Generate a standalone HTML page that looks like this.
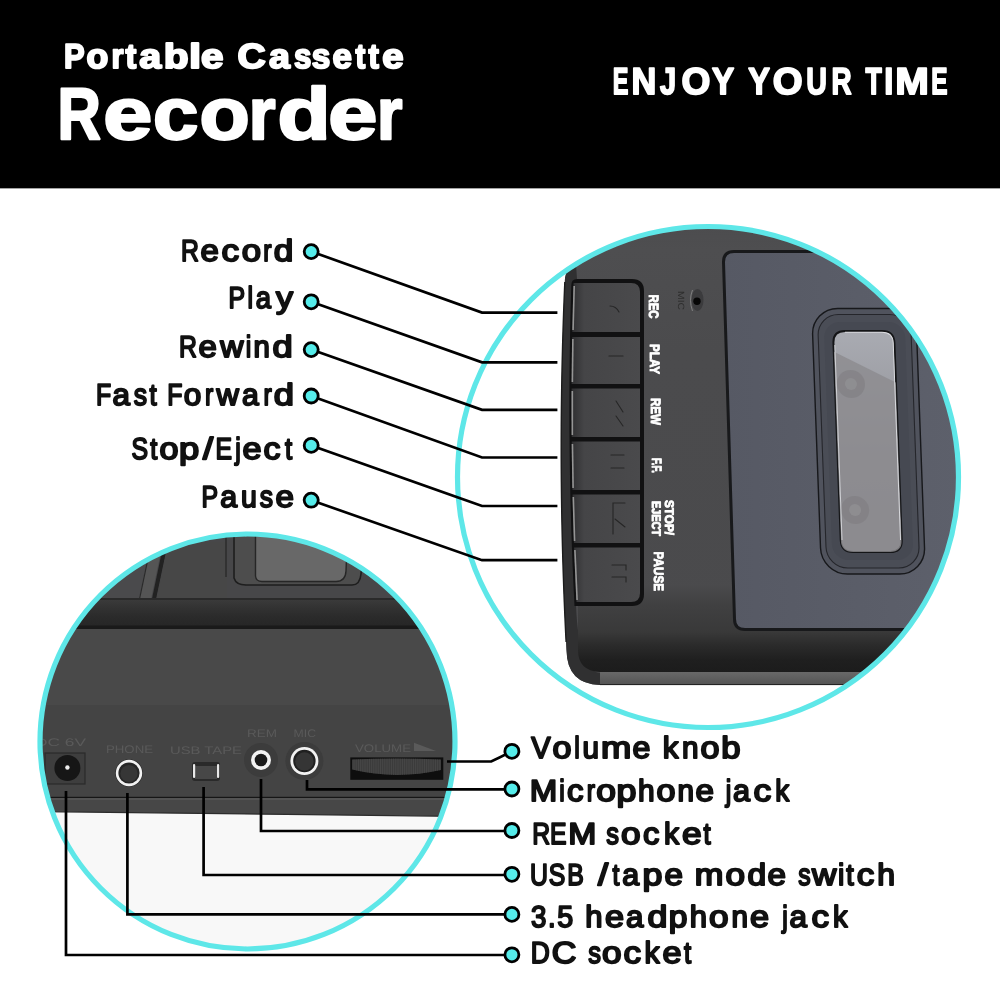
<!DOCTYPE html>
<html><head><meta charset="utf-8">
<style>
html,body{margin:0;padding:0;background:#fff;}
body{width:1000px;height:1000px;overflow:hidden;position:relative;font-family:"Liberation Sans",sans-serif;}
svg{position:absolute;left:-10px;top:-10px;text-rendering:geometricPrecision;will-change:transform;filter:blur(0.35px);}
</style></head>
<body>
<svg width="1020" height="1020" viewBox="-10 -10 1020 1020" font-family="Liberation Sans, sans-serif">
<defs>
  <clipPath id="cR"><circle cx="708" cy="477" r="250.5"/></clipPath>
  <clipPath id="cL"><circle cx="247.5" cy="741.5" r="207.5"/></clipPath>
  <linearGradient id="bodyR" x1="0" y1="200" x2="0" y2="700" gradientUnits="userSpaceOnUse">
    <stop offset="0" stop-color="#4a4a4c"/>
    <stop offset="0.1" stop-color="#4e4e50"/>
    <stop offset="0.3" stop-color="#4b4b4d"/>
    <stop offset="1" stop-color="#4a4a4c"/>
  </linearGradient>
  <linearGradient id="botR" x1="0" y1="585" x2="0" y2="672" gradientUnits="userSpaceOnUse">
    <stop offset="0" stop-color="#4a4a4c"/>
    <stop offset="0.24" stop-color="#404041"/>
    <stop offset="0.54" stop-color="#393939"/>
    <stop offset="0.69" stop-color="#2b2b2b"/>
    <stop offset="0.86" stop-color="#1f1f1f"/>
    <stop offset="1" stop-color="#1c1c1c"/>
  </linearGradient>
  <linearGradient id="stripR" x1="0" y1="671" x2="0" y2="684" gradientUnits="userSpaceOnUse">
    <stop offset="0" stop-color="#6a6a6a"/>
    <stop offset="1" stop-color="#555555"/>
  </linearGradient>
  <linearGradient id="btn" x1="572" y1="0" x2="640" y2="0" gradientUnits="userSpaceOnUse">
    <stop offset="0" stop-color="#303032"/>
    <stop offset="0.18" stop-color="#454547"/>
    <stop offset="1" stop-color="#4a4a4c"/>
  </linearGradient>
  <linearGradient id="glass" x1="0" y1="331" x2="0" y2="552" gradientUnits="userSpaceOnUse">
    <stop offset="0" stop-color="#a9abb2"/>
    <stop offset="0.3" stop-color="#9c9da3"/>
    <stop offset="0.6" stop-color="#909096"/>
    <stop offset="1" stop-color="#8a8a90"/>
  </linearGradient>
  <linearGradient id="bandL" x1="0" y1="600" x2="0" y2="627" gradientUnits="userSpaceOnUse">
    <stop offset="0" stop-color="#3a3a3a"/>
    <stop offset="0.3" stop-color="#323232"/>
    <stop offset="0.6" stop-color="#2b2b2b"/>
    <stop offset="1" stop-color="#262626"/>
  </linearGradient>
  <linearGradient id="lidG" x1="723" y1="0" x2="960" y2="0" gradientUnits="userSpaceOnUse">
    <stop offset="0" stop-color="#565964"/>
    <stop offset="1" stop-color="#5d606b"/>
  </linearGradient>
</defs>

<!-- header -->
<rect x="-10" y="-10" width="1020" height="198.6" fill="#000"/>
<rect x="-10" y="188.6" width="1020" height="822" fill="#fff"/>
<text x="63.93" y="68.20" font-size="34.60" textLength="20.63" lengthAdjust="spacingAndGlyphs" fill="#fff" font-weight="bold" stroke="#fff" stroke-width="2.00" paint-order="stroke" stroke-linejoin="round">P</text>
<text x="86.61" y="68.20" font-size="34.60" textLength="21.79" lengthAdjust="spacingAndGlyphs" fill="#fff" font-weight="bold" stroke="#fff" stroke-width="2.00" paint-order="stroke" stroke-linejoin="round">o</text>
<text x="111.47" y="68.20" font-size="34.60" textLength="12.00" lengthAdjust="spacingAndGlyphs" fill="#fff" font-weight="bold" stroke="#fff" stroke-width="2.00" paint-order="stroke" stroke-linejoin="round">r</text>
<text x="125.60" y="68.20" font-size="34.60" textLength="10.79" lengthAdjust="spacingAndGlyphs" fill="#fff" font-weight="bold" stroke="#fff" stroke-width="2.00" paint-order="stroke" stroke-linejoin="round">t</text>
<text x="139.35" y="68.20" font-size="34.60" textLength="21.90" lengthAdjust="spacingAndGlyphs" fill="#fff" font-weight="bold" stroke="#fff" stroke-width="2.00" paint-order="stroke" stroke-linejoin="round">a</text>
<text x="163.82" y="68.20" font-size="34.60" textLength="24.85" lengthAdjust="spacingAndGlyphs" fill="#fff" font-weight="bold" stroke="#fff" stroke-width="2.00" paint-order="stroke" stroke-linejoin="round">b</text>
<text x="188.95" y="68.20" font-size="34.60" textLength="12.15" lengthAdjust="spacingAndGlyphs" fill="#fff" font-weight="bold" stroke="#fff" stroke-width="2.00" paint-order="stroke" stroke-linejoin="round">l</text>
<text x="200.92" y="68.20" font-size="34.60" textLength="22.46" lengthAdjust="spacingAndGlyphs" fill="#fff" font-weight="bold" stroke="#fff" stroke-width="2.00" paint-order="stroke" stroke-linejoin="round">e</text>
<text x="237.40" y="68.20" font-size="34.60" textLength="28.17" lengthAdjust="spacingAndGlyphs" fill="#fff" font-weight="bold" stroke="#fff" stroke-width="2.00" paint-order="stroke" stroke-linejoin="round">C</text>
<text x="268.90" y="68.20" font-size="34.60" textLength="20.86" lengthAdjust="spacingAndGlyphs" fill="#fff" font-weight="bold" stroke="#fff" stroke-width="2.00" paint-order="stroke" stroke-linejoin="round">a</text>
<text x="293.90" y="68.20" font-size="34.60" textLength="17.38" lengthAdjust="spacingAndGlyphs" fill="#fff" font-weight="bold" stroke="#fff" stroke-width="2.00" paint-order="stroke" stroke-linejoin="round">s</text>
<text x="311.83" y="68.20" font-size="34.60" textLength="18.54" lengthAdjust="spacingAndGlyphs" fill="#fff" font-weight="bold" stroke="#fff" stroke-width="2.00" paint-order="stroke" stroke-linejoin="round">s</text>
<text x="332.43" y="68.20" font-size="34.60" textLength="19.46" lengthAdjust="spacingAndGlyphs" fill="#fff" font-weight="bold" stroke="#fff" stroke-width="2.00" paint-order="stroke" stroke-linejoin="round">e</text>
<text x="355.54" y="68.20" font-size="34.60" textLength="9.82" lengthAdjust="spacingAndGlyphs" fill="#fff" font-weight="bold" stroke="#fff" stroke-width="2.00" paint-order="stroke" stroke-linejoin="round">t</text>
<text x="368.62" y="68.20" font-size="34.60" textLength="10.36" lengthAdjust="spacingAndGlyphs" fill="#fff" font-weight="bold" stroke="#fff" stroke-width="2.00" paint-order="stroke" stroke-linejoin="round">t</text>
<text x="382.20" y="68.20" font-size="34.60" textLength="21.31" lengthAdjust="spacingAndGlyphs" fill="#fff" font-weight="bold" stroke="#fff" stroke-width="2.00" paint-order="stroke" stroke-linejoin="round">e</text>
<text x="57.58" y="139.40" font-size="73.20" textLength="43.35" lengthAdjust="spacingAndGlyphs" fill="#fff" font-weight="bold" stroke="#fff" stroke-width="2.40" paint-order="stroke" stroke-linejoin="round">R</text>
<text x="103.15" y="139.40" font-size="73.20" textLength="49.06" lengthAdjust="spacingAndGlyphs" fill="#fff" font-weight="bold" stroke="#fff" stroke-width="2.40" paint-order="stroke" stroke-linejoin="round">e</text>
<text x="152.90" y="139.40" font-size="73.20" textLength="45.49" lengthAdjust="spacingAndGlyphs" fill="#fff" font-weight="bold" stroke="#fff" stroke-width="2.40" paint-order="stroke" stroke-linejoin="round">c</text>
<text x="199.49" y="139.40" font-size="73.20" textLength="50.22" lengthAdjust="spacingAndGlyphs" fill="#fff" font-weight="bold" stroke="#fff" stroke-width="2.40" paint-order="stroke" stroke-linejoin="round">o</text>
<text x="248.66" y="139.40" font-size="73.20" textLength="26.78" lengthAdjust="spacingAndGlyphs" fill="#fff" font-weight="bold" stroke="#fff" stroke-width="2.40" paint-order="stroke" stroke-linejoin="round">r</text>
<text x="277.63" y="139.40" font-size="73.20" textLength="53.09" lengthAdjust="spacingAndGlyphs" fill="#fff" font-weight="bold" stroke="#fff" stroke-width="2.40" paint-order="stroke" stroke-linejoin="round">d</text>
<text x="328.25" y="139.40" font-size="73.20" textLength="49.18" lengthAdjust="spacingAndGlyphs" fill="#fff" font-weight="bold" stroke="#fff" stroke-width="2.40" paint-order="stroke" stroke-linejoin="round">e</text>
<text x="376.90" y="139.40" font-size="73.20" textLength="25.39" lengthAdjust="spacingAndGlyphs" fill="#fff" font-weight="bold" stroke="#fff" stroke-width="2.40" paint-order="stroke" stroke-linejoin="round">r</text>
<text x="612.83" y="94.10" font-size="37.50" textLength="15.69" lengthAdjust="spacingAndGlyphs" fill="#fff" font-weight="bold" stroke="#fff" stroke-width="1.80" paint-order="stroke" stroke-linejoin="round">E</text>
<text x="631.60" y="94.10" font-size="37.50" textLength="24.81" lengthAdjust="spacingAndGlyphs" fill="#fff" font-weight="bold" stroke="#fff" stroke-width="1.80" paint-order="stroke" stroke-linejoin="round">N</text>
<text x="659.96" y="94.10" font-size="37.50" textLength="16.12" lengthAdjust="spacingAndGlyphs" fill="#fff" font-weight="bold" stroke="#fff" stroke-width="1.80" paint-order="stroke" stroke-linejoin="round">J</text>
<text x="681.38" y="94.10" font-size="37.50" textLength="28.88" lengthAdjust="spacingAndGlyphs" fill="#fff" font-weight="bold" stroke="#fff" stroke-width="1.80" paint-order="stroke" stroke-linejoin="round">O</text>
<text x="711.93" y="94.10" font-size="37.50" textLength="22.10" lengthAdjust="spacingAndGlyphs" fill="#fff" font-weight="bold" stroke="#fff" stroke-width="1.80" paint-order="stroke" stroke-linejoin="round">Y</text>
<text x="748.34" y="94.10" font-size="37.50" textLength="21.68" lengthAdjust="spacingAndGlyphs" fill="#fff" font-weight="bold" stroke="#fff" stroke-width="1.80" paint-order="stroke" stroke-linejoin="round">Y</text>
<text x="772.82" y="94.10" font-size="37.50" textLength="29.89" lengthAdjust="spacingAndGlyphs" fill="#fff" font-weight="bold" stroke="#fff" stroke-width="1.80" paint-order="stroke" stroke-linejoin="round">O</text>
<text x="806.18" y="94.10" font-size="37.50" textLength="20.67" lengthAdjust="spacingAndGlyphs" fill="#fff" font-weight="bold" stroke="#fff" stroke-width="1.80" paint-order="stroke" stroke-linejoin="round">U</text>
<text x="831.53" y="94.10" font-size="37.50" textLength="20.14" lengthAdjust="spacingAndGlyphs" fill="#fff" font-weight="bold" stroke="#fff" stroke-width="1.80" paint-order="stroke" stroke-linejoin="round">R</text>
<text x="865.60" y="94.10" font-size="37.50" textLength="16.29" lengthAdjust="spacingAndGlyphs" fill="#fff" font-weight="bold" stroke="#fff" stroke-width="1.80" paint-order="stroke" stroke-linejoin="round">T</text>
<text x="884.22" y="94.10" font-size="37.50" textLength="9.07" lengthAdjust="spacingAndGlyphs" fill="#fff" font-weight="bold" stroke="#fff" stroke-width="1.80" paint-order="stroke" stroke-linejoin="round">I</text>
<text x="895.20" y="94.10" font-size="37.50" textLength="33.60" lengthAdjust="spacingAndGlyphs" fill="#fff" font-weight="bold" stroke="#fff" stroke-width="1.80" paint-order="stroke" stroke-linejoin="round">M</text>
<text x="931.27" y="94.10" font-size="37.50" textLength="16.29" lengthAdjust="spacingAndGlyphs" fill="#fff" font-weight="bold" stroke="#fff" stroke-width="1.80" paint-order="stroke" stroke-linejoin="round">E</text>

<!-- ============ upper right circle ============ -->
<g clip-path="url(#cR)">
  <rect x="440" y="200" width="560" height="560" fill="#fff"/>
  <!-- device body -->
  <path d="M565.00,278 Q566,268 576,264 L576,200 L1000,200 L1000,685 L600,685 Q567,684 566.51,650 L566.10,642.00 L565.70,634.00 L565.32,626.00 L564.96,618.00 L564.61,610.00 L564.28,602.00 L563.97,594.00 L563.68,586.00 L563.40,578.00 L563.13,570.00 L562.89,562.00 L562.66,554.00 L562.44,546.00 L562.25,538.00 L562.07,530.00 L561.91,522.00 L561.76,514.00 L561.63,506.00 L561.52,498.00 L561.43,490.00 L561.35,482.00 L561.29,474.00 L561.24,466.00 L561.21,458.00 L561.20,450.00 L561.21,442.00 L561.23,434.00 L561.27,426.00 L561.32,418.00 L561.39,410.00 L561.48,402.00 L561.59,394.00 L561.71,386.00 L561.85,378.00 L562.00,370.00 L562.18,362.00 L562.37,354.00 L562.57,346.00 L562.80,338.00 L563.03,330.00 L563.29,322.00 L563.56,314.00 L563.85,306.00 L564.16,298.00 L564.48,290.00 Z" fill="url(#bodyR)"/>
  <!-- side strip -->
  <path d="M565.00,278 Q566,268 576,264 L577,279 L572.34,285.00 L572.09,293.00 L571.86,301.00 L571.64,309.00 L571.44,317.00 L571.26,325.00 L571.10,333.00 L570.95,341.00 L570.82,349.00 L570.70,357.00 L570.61,365.00 L570.52,373.00 L570.46,381.00 L570.41,389.00 L570.38,397.00 L570.37,405.00 L570.37,413.00 L570.39,421.00 L570.43,429.00 L570.48,437.00 L570.55,445.00 L570.63,453.00 L570.74,461.00 L570.86,469.00 L570.99,477.00 L571.15,485.00 L571.32,493.00 L571.50,501.00 L571.71,509.00 L571.93,517.00 L572.16,525.00 L572.42,533.00 L572.69,541.00 L572.97,549.00 L573.28,557.00 L573.60,565.00 L573.94,573.00 L574.29,581.00 L574.66,589.00 L575.05,597.00 L575.45,605.00 L576.00,606 Q579,672 600,673 L600,685 Q567,684 566.51,650 L566.10,642.00 L565.70,634.00 L565.32,626.00 L564.96,618.00 L564.61,610.00 L564.28,602.00 L563.97,594.00 L563.68,586.00 L563.40,578.00 L563.13,570.00 L562.89,562.00 L562.66,554.00 L562.44,546.00 L562.25,538.00 L562.07,530.00 L561.91,522.00 L561.76,514.00 L561.63,506.00 L561.52,498.00 L561.43,490.00 L561.35,482.00 L561.29,474.00 L561.24,466.00 L561.21,458.00 L561.20,450.00 L561.21,442.00 L561.23,434.00 L561.27,426.00 L561.32,418.00 L561.39,410.00 L561.48,402.00 L561.59,394.00 L561.71,386.00 L561.85,378.00 L562.00,370.00 L562.18,362.00 L562.37,354.00 L562.57,346.00 L562.80,338.00 L563.03,330.00 L563.29,322.00 L563.56,314.00 L563.85,306.00 L564.16,298.00 L564.48,290.00 Z" fill="#303031"/>
  <path d="M564.82,282 L564.48,290.00 L564.16,298.00 L563.85,306.00 L563.56,314.00 L563.29,322.00 L563.03,330.00 L562.80,338.00 L562.57,346.00 L562.37,354.00 L562.18,362.00 L562.00,370.00 L561.85,378.00 L561.71,386.00 L561.59,394.00 L561.48,402.00 L561.39,410.00 L561.32,418.00 L561.27,426.00 L561.23,434.00 L561.21,442.00 L561.20,450.00 L561.21,458.00 L561.24,466.00 L561.29,474.00 L561.35,482.00 L561.43,490.00 L561.52,498.00 L561.63,506.00 L561.76,514.00 L561.91,522.00 L562.07,530.00 L562.25,538.00 L562.44,546.00 L562.66,554.00 L562.89,562.00 L563.13,570.00 L563.40,578.00 L563.68,586.00 L563.97,594.00 L564.28,602.00 L564.61,610.00 L564.96,618.00 L565.32,626.00 L565.70,634.00 L566.10,642.00" fill="none" stroke="#1c1c1c" stroke-width="1.4"/>
  <!-- bottom dark and lighter strip -->
  <path d="M578,585 L1000,585 L1000,672 L600,672 Q578,671 578,650 Z" fill="url(#botR)"/>
  <path d="M600,672 L1000,672 L1000,685 L600,685 Z" fill="url(#stripR)"/>
  <path d="M600,684.6 L1000,684.6" stroke="#1e1e1e" stroke-width="1"/>
  <!-- buttons -->
  <path d="M574.50,606 L574.20,600.00 L573.80,592.00 L573.43,584.00 L573.07,576.00 L572.72,568.00 L572.40,560.00 L572.09,552.00 L571.79,544.00 L571.52,536.00 L571.26,528.00 L571.01,520.00 L570.79,512.00 L570.58,504.00 L570.38,496.00 L570.21,488.00 L570.05,480.00 L569.91,472.00 L569.78,464.00 L569.67,456.00 L569.58,448.00 L569.50,440.00 L569.44,432.00 L569.40,424.00 L569.38,416.00 L569.37,408.00 L569.37,400.00 L569.40,392.00 L569.44,384.00 L569.50,376.00 L569.57,368.00 L569.66,360.00 L569.77,352.00 L569.90,344.00 L570.04,336.00 L570.20,328.00 L570.37,320.00 L570.56,312.00 L570.77,304.00 L571.00,296.00 L571.24,288.00 L571.34,285 Q571.34,279 577,279 L632,279 Q644,279 644,291 L644,594 Q644,606 632,606 Z" fill="#111112"/>
  <clipPath id="fc"><path d="M573.60,283 L631,283 Q640,283 640,292 L640,593 Q640,602 631,602 L576.50,602 L576.30,598.00 L575.91,590.00 L575.53,582.00 L575.18,574.00 L574.84,566.00 L574.52,558.00 L574.21,550.00 L573.92,542.00 L573.65,534.00 L573.39,526.00 L573.16,518.00 L572.93,510.00 L572.73,502.00 L572.54,494.00 L572.37,486.00 L572.21,478.00 L572.07,470.00 L571.95,462.00 L571.85,454.00 L571.76,446.00 L571.69,438.00 L571.63,430.00 L571.59,422.00 L571.57,414.00 L571.57,406.00 L571.58,398.00 L571.61,390.00 L571.65,382.00 L571.72,374.00 L571.79,366.00 L571.89,358.00 L572.00,350.00 L572.13,342.00 L572.28,334.00 L572.44,326.00 L572.62,318.00 L572.82,310.00 L573.03,302.00 L573.26,294.00 L573.50,286.00 Z"/></clipPath>
  <g fill="url(#btn)" clip-path="url(#fc)">
    <rect x="560" y="283" width="80" height="49"/>
    <rect x="560" y="337" width="80" height="47"/>
    <rect x="560" y="388.5" width="80" height="48.5"/>
    <rect x="560" y="441.5" width="80" height="48.5"/>
    <rect x="560" y="494.5" width="80" height="48.5"/>
    <rect x="560" y="547.5" width="80" height="55"/>
  </g>
  <g stroke="#959595" stroke-width="1.6">
    <path d="M574.20,286 L573.06,330"/><path d="M572.88,339 L572.35,382"/><path d="M572.30,391 L572.36,435"/><path d="M572.44,444 L573.11,488"/><path d="M573.31,497 L574.59,541"/><path d="M574.91,550 L577.10,600"/>
  </g>
  <g stroke="#262626" stroke-width="1.1" fill="none" stroke-linecap="round">
    <path d="M610,306 Q616,306 619,312"/>
    <path d="M609,356 L623,356"/>
    <path d="M616,401 L623,412 M616,416 L623,426"/>
    <path d="M611,455 L624,455 M611,468 L624,468"/>
    <path d="M625,503 L613,503 L613,534 M615,519 L625,527"/>
    <path d="M612,565 L626,565 L626,570 M612,577 L626,577 L626,582"/>
  </g>
  <!-- labels -->
  <g fill="#fff" font-weight="bold" stroke="#fff" stroke-width="0.9" stroke-linejoin="round">
    <text transform="translate(648.5,294.5) rotate(90)" font-size="13.6" textLength="24" lengthAdjust="spacingAndGlyphs">REC</text>
    <text transform="translate(649.6,344) rotate(90)" font-size="13.6" textLength="30" lengthAdjust="spacingAndGlyphs">PLAY</text>
    <text transform="translate(651,398) rotate(90)" font-size="13.6" textLength="27" lengthAdjust="spacingAndGlyphs">REW</text>
    <text transform="translate(652,458) rotate(90)" font-size="13.6" textLength="15" lengthAdjust="spacingAndGlyphs">F.F.</text>
    <text transform="translate(664.5,500) rotate(90)" font-size="12.5" textLength="35" lengthAdjust="spacingAndGlyphs">STOP/</text>
    <text transform="translate(652,501) rotate(90)" font-size="12.5" textLength="35" lengthAdjust="spacingAndGlyphs">EJECT</text>
    <text transform="translate(653.6,551.6) rotate(90)" font-size="13.6" textLength="39.4" lengthAdjust="spacingAndGlyphs">PAUSE</text>
  </g>
  <!-- mic hole -->
  <ellipse cx="697.5" cy="300" rx="6" ry="11" fill="#3b3b3d"/>
  <path d="M692.5,290 Q688.5,300 692.5,311" fill="none" stroke="#808080" stroke-width="1"/>
  <circle cx="697" cy="301.2" r="3.7" fill="#060606"/>
  <text transform="translate(678,291) rotate(90)" font-size="9" fill="#2e2e2e" textLength="19" lengthAdjust="spacingAndGlyphs">MIC</text>
  <!-- lid -->
  <path d="M723.5,262 Q723.5,251.5 734,251.5 L1000,251.5 L1000,629.5 L745,629.5 Q734.5,629.5 734.5,619 Z" fill="url(#lidG)" stroke="#18191b" stroke-width="3"/>
  <!-- window ring -->
  <g transform="matrix(1,0,0.037,1,-12.25,0)">
    <rect x="812.5" y="308.5" width="104" height="265.5" rx="26" fill="#50535d" stroke="#17181b" stroke-width="1.4"/>
    <rect x="818" y="314.5" width="93" height="253.5" rx="21" fill="#4a4d56" stroke="#25262b" stroke-width="1.1"/>
    <rect x="824" y="322" width="81" height="238" rx="16" fill="#464952"/>
    <clipPath id="gl"><path d="M845,331 L882,331 Q894,331 894,343 L894,540 Q894,552 882,552 L845,552 Q833,552 833,540 L833,343 Q833,331 845,331 Z"/></clipPath>
    <path d="M845,331 L882,331 Q894,331 894,343 L894,540 Q894,552 882,552 L845,552 Q833,552 833,540 L833,343 Q833,331 845,331 Z" fill="url(#glass)" stroke="#141517" stroke-width="2"/>
    <g clip-path="url(#gl)">
      <path d="M832,351 L895,383 L895,553 L832,553 Z" fill="#8c8b8f" opacity="0.8"/>
      <circle cx="849" cy="384" r="14" fill="#7d7c80" opacity="0.55"/>
      <circle cx="849" cy="384" r="6" fill="#959498" opacity="0.6"/>
      <circle cx="848.5" cy="510" r="14" fill="#7d7c80" opacity="0.55"/>
      <circle cx="848.5" cy="510" r="6" fill="#959498" opacity="0.6"/>
      <path d="M845,332.2 L882,332.2 Q892.8,332.2 892.8,343 L892.8,540" fill="none" stroke="#d8d9dd" stroke-width="1"/>
      <path d="M834.3,345 L834.3,540" fill="none" stroke="#cfd0d4" stroke-width="1"/>
    </g>
  </g>
</g>
<circle cx="708" cy="477" r="250.5" fill="none" stroke="#5ee7e8" stroke-width="5.2"/>

<!-- ============ lower left circle ============ -->
<g clip-path="url(#cL)">
  <rect x="30" y="520" width="440" height="440" fill="#f8f8f8"/>
  <!-- top face -->
  <rect x="30" y="520" width="440" height="79" fill="#474749"/>
  <rect x="30" y="520" width="120" height="79" fill="#4a4a4c"/>
  <path d="M139,599 L151,599 L163,542 L151,542 Z" fill="#555555"/>
  <path d="M139.5,599 L151.5,542" stroke="#2a2a2a" stroke-width="1.2"/>
  <path d="M154,599 L166,542" stroke="#222222" stroke-width="4"/>
  <path d="M156.5,599 L168.5,542 L227,542 L227,599 Z" fill="#474747"/>
  <path d="M234,520 L234,578 Q236,585 246,585 L352,585 Q360,585 361,574 L366,520 Z" fill="#4d4d4d" stroke="#1e1e1e" stroke-width="1.6"/>
  <path d="M255.5,520 L255.5,576 Q256,581.5 262,581.5 L336,581.5 Q345.5,581.5 346,571 L348,520 Z" fill="#686868" stroke="#262626" stroke-width="1.4"/>
  <path d="M226,520 L226,577" stroke="#2a2a2a" stroke-width="1.4"/>
  <rect x="30" y="598" width="440" height="2" fill="#2a2a2a"/>
  <rect x="30" y="600" width="440" height="27" fill="url(#bandL)"/>
  <rect x="30" y="625.5" width="440" height="3.5" fill="#1a1a1a"/>
  <!-- front face -->
  <rect x="30" y="629" width="440" height="77" fill="#494949"/>
  <rect x="30" y="705" width="440" height="92" fill="#444444"/>
  <rect x="30" y="796.8" width="440" height="1.9" fill="#161616"/>
  <path d="M30,798.7 L470,798.7 L470,816.5 L30,811.5 Z" fill="#474747"/>
  <rect x="30" y="798.7" width="440" height="1.2" fill="#555555"/>
  <path d="M30,811.5 L470,816.5" stroke="#2c2c2c" stroke-width="1.2"/>
  <!-- DC -->
  <rect x="45" y="753" width="40" height="31" fill="#3e3e3e" stroke="#2a2a2a" stroke-width="1.2"/>
  <circle cx="67.4" cy="768" r="13" fill="#161616"/>
  <circle cx="67.4" cy="767.5" r="2.2" fill="#eee"/>
  <!-- phone -->
  <circle cx="129" cy="773" r="13.8" fill="#2a2a2a"/>
  <circle cx="129" cy="773" r="13.2" fill="#f2f2f2"/>
  <circle cx="129" cy="773" r="10.6" fill="#262626"/>
  <circle cx="129" cy="773.5" r="8.6" fill="#363636"/>
  <!-- usb switch -->
  <rect x="192" y="762" width="28" height="19" rx="3" fill="#2a2a2a"/>
  <rect x="195" y="766" width="22" height="13" fill="#474747"/>
  <rect x="193" y="764" width="2.2" height="14" rx="1" fill="#e8e8e8"/>
  <rect x="217" y="764" width="2.2" height="14" rx="1" fill="#e8e8e8"/>
  <!-- REM -->
  <circle cx="261" cy="760" r="17" fill="#3c3c3c"/>
  <circle cx="261" cy="760" r="10" fill="#f2f2f2"/>
  <circle cx="261" cy="760" r="6.3" fill="#1a1a1a"/>
  <!-- MIC -->
  <circle cx="304.4" cy="761" r="19" fill="#3c3c3c"/>
  <circle cx="304.4" cy="761" r="14" fill="#f2f2f2"/>
  <circle cx="304.4" cy="761" r="11.2" fill="#202020"/>
  <circle cx="304.4" cy="761.5" r="9.2" fill="#353535"/>
  <!-- volume -->
  <rect x="350.3" y="757.4" width="93" height="22.4" fill="#0e0e0e"/>
  <clipPath id="knob"><path d="M352,759.5 Q396,757.5 441,759.5 L441,770 Q396,780 352,769.5 Z"/></clipPath>
  <path d="M352,759.5 Q396,757.5 441,759.5 L441,770 Q396,780 352,769.5 Z" fill="#3b3b3b"/>
  <g clip-path="url(#knob)" stroke="#4e4e4e" stroke-width="0.7"><path d="M354.0,757 v24 M356.2,757 v24 M358.4,757 v24 M360.6,757 v24 M362.8,757 v24 M365.0,757 v24 M367.2,757 v24 M369.4,757 v24 M371.6,757 v24 M373.8,757 v24 M376.0,757 v24 M378.2,757 v24 M380.4,757 v24 M382.6,757 v24 M384.8,757 v24 M387.0,757 v24 M389.2,757 v24 M391.4,757 v24 M393.6,757 v24 M395.8,757 v24 M398.0,757 v24 M400.2,757 v24 M402.4,757 v24 M404.6,757 v24 M406.8,757 v24 M409.0,757 v24 M411.2,757 v24 M413.4,757 v24 M415.6,757 v24 M417.8,757 v24 M420.0,757 v24 M422.2,757 v24 M424.4,757 v24 M426.6,757 v24 M428.8,757 v24 M431.0,757 v24 M433.2,757 v24 M435.4,757 v24 M437.6,757 v24 M439.8,757 v24"/></g>
  <!-- faint labels -->
  <g fill="#5a5a5a" font-size="11">
    <text x="35" y="746" textLength="51" lengthAdjust="spacingAndGlyphs">DC  6V</text>
    <text x="106" y="753" textLength="47" lengthAdjust="spacingAndGlyphs">PHONE</text>
    <text x="170" y="754" textLength="72" lengthAdjust="spacingAndGlyphs">USB  TAPE</text>
    <text x="247" y="737" textLength="30" lengthAdjust="spacingAndGlyphs">REM</text>
    <text x="293.6" y="737" textLength="22.4" lengthAdjust="spacingAndGlyphs">MIC</text>
    <text x="355" y="752" textLength="56" lengthAdjust="spacingAndGlyphs">VOLUME</text>
  </g>
  <path d="M414,742.7 L436,751 L414,751 Z" fill="#5a5a5a"/>
</g>
<circle cx="247.5" cy="741.5" r="207.5" fill="none" stroke="#5ee7e8" stroke-width="5.2"/>

<!-- ============ leader lines ============ -->
<g fill="none" stroke="#000" stroke-width="2.7" stroke-linejoin="miter">
  <polyline points="311.2,251.6 482,312.6 557.4,312.6"/>
  <polyline points="311.2,301.8 482,362.3 557.4,362.3"/>
  <polyline points="311.2,349.6 482,409.8 557.4,409.8"/>
  <polyline points="311.2,396 482,457.5 557.4,457.5"/>
  <polyline points="311.2,445.4 482,506 557.4,506"/>
  <polyline points="311.2,500.2 482,560.2 557.4,560.2"/>

  <polyline points="447,761.5 491.2,761.5 511.9,751.3"/>
  <polyline points="307,780 307,789.4 511.9,789.4"/>
  <polyline points="261,779 261,831 511.9,831"/>
  <polyline points="203.6,787 203.6,875 511.9,875"/>
  <polyline points="127.4,793 127.4,914.4 511.9,914.4"/>
  <polyline points="66,791 66,955 511.9,955"/>
</g>
<!-- dots -->
<g fill="#55ecea" stroke="#000" stroke-width="2.8">
  <circle cx="311.2" cy="251.6" r="7"/>
  <circle cx="311.2" cy="301.8" r="7"/>
  <circle cx="311.2" cy="349.6" r="7"/>
  <circle cx="311.2" cy="396" r="7"/>
  <circle cx="311.2" cy="445.4" r="7"/>
  <circle cx="311.2" cy="500.2" r="7"/>
  <circle cx="511.9" cy="751.3" r="7"/>
  <circle cx="511.9" cy="789" r="7"/>
  <circle cx="511.9" cy="830.5" r="7"/>
  <circle cx="511.9" cy="874.3" r="7"/>
  <circle cx="511.9" cy="914.4" r="7"/>
  <circle cx="511.9" cy="954.8" r="7"/>
</g>

<!-- ============ labels ============ -->
<text x="180.94" y="260.55" font-size="30.30" textLength="17.94" lengthAdjust="spacingAndGlyphs" fill="#111" font-weight="normal" stroke="#111" stroke-width="1.90" paint-order="stroke" stroke-linejoin="round">R</text>
<text x="200.55" y="260.55" font-size="30.30" textLength="18.37" lengthAdjust="spacingAndGlyphs" fill="#111" font-weight="normal" stroke="#111" stroke-width="1.90" paint-order="stroke" stroke-linejoin="round">e</text>
<text x="221.45" y="260.55" font-size="30.30" textLength="17.63" lengthAdjust="spacingAndGlyphs" fill="#111" font-weight="normal" stroke="#111" stroke-width="1.90" paint-order="stroke" stroke-linejoin="round">c</text>
<text x="241.79" y="260.55" font-size="30.30" textLength="19.32" lengthAdjust="spacingAndGlyphs" fill="#111" font-weight="normal" stroke="#111" stroke-width="1.90" paint-order="stroke" stroke-linejoin="round">o</text>
<text x="263.34" y="260.55" font-size="30.30" textLength="8.27" lengthAdjust="spacingAndGlyphs" fill="#111" font-weight="normal" stroke="#111" stroke-width="1.90" paint-order="stroke" stroke-linejoin="round">r</text>
<text x="273.87" y="260.55" font-size="30.30" textLength="19.54" lengthAdjust="spacingAndGlyphs" fill="#111" font-weight="normal" stroke="#111" stroke-width="1.90" paint-order="stroke" stroke-linejoin="round">d</text>
<text x="228.55" y="307.85" font-size="30.30" textLength="16.57" lengthAdjust="spacingAndGlyphs" fill="#111" font-weight="normal" stroke="#111" stroke-width="1.90" paint-order="stroke" stroke-linejoin="round">P</text>
<text x="247.43" y="307.85" font-size="30.30" textLength="5.52" lengthAdjust="spacingAndGlyphs" fill="#111" font-weight="normal" stroke="#111" stroke-width="1.90" paint-order="stroke" stroke-linejoin="round">l</text>
<text x="255.78" y="307.85" font-size="30.30" textLength="15.27" lengthAdjust="spacingAndGlyphs" fill="#111" font-weight="normal" stroke="#111" stroke-width="1.90" paint-order="stroke" stroke-linejoin="round">a</text>
<text x="276.07" y="307.85" font-size="30.30" textLength="17.05" lengthAdjust="spacingAndGlyphs" fill="#111" font-weight="normal" stroke="#111" stroke-width="1.90" paint-order="stroke" stroke-linejoin="round">y</text>
<text x="178.94" y="357.45" font-size="30.30" textLength="17.94" lengthAdjust="spacingAndGlyphs" fill="#111" font-weight="normal" stroke="#111" stroke-width="1.90" paint-order="stroke" stroke-linejoin="round">R</text>
<text x="198.55" y="357.45" font-size="30.30" textLength="18.37" lengthAdjust="spacingAndGlyphs" fill="#111" font-weight="normal" stroke="#111" stroke-width="1.90" paint-order="stroke" stroke-linejoin="round">e</text>
<text x="220.20" y="357.45" font-size="30.30" textLength="23.17" lengthAdjust="spacingAndGlyphs" fill="#111" font-weight="normal" stroke="#111" stroke-width="1.90" paint-order="stroke" stroke-linejoin="round">w</text>
<text x="245.65" y="357.45" font-size="30.30" textLength="5.52" lengthAdjust="spacingAndGlyphs" fill="#111" font-weight="normal" stroke="#111" stroke-width="1.90" paint-order="stroke" stroke-linejoin="round">i</text>
<text x="253.40" y="357.45" font-size="30.30" textLength="16.36" lengthAdjust="spacingAndGlyphs" fill="#111" font-weight="normal" stroke="#111" stroke-width="1.90" paint-order="stroke" stroke-linejoin="round">n</text>
<text x="272.50" y="357.45" font-size="30.30" textLength="20.22" lengthAdjust="spacingAndGlyphs" fill="#111" font-weight="normal" stroke="#111" stroke-width="1.90" paint-order="stroke" stroke-linejoin="round">d</text>
<text x="95.89" y="405.45" font-size="30.30" textLength="15.18" lengthAdjust="spacingAndGlyphs" fill="#111" font-weight="normal" stroke="#111" stroke-width="1.90" paint-order="stroke" stroke-linejoin="round">F</text>
<text x="112.62" y="405.45" font-size="30.30" textLength="17.43" lengthAdjust="spacingAndGlyphs" fill="#111" font-weight="normal" stroke="#111" stroke-width="1.90" paint-order="stroke" stroke-linejoin="round">a</text>
<text x="133.71" y="405.45" font-size="30.30" textLength="13.30" lengthAdjust="spacingAndGlyphs" fill="#111" font-weight="normal" stroke="#111" stroke-width="1.90" paint-order="stroke" stroke-linejoin="round">s</text>
<text x="149.56" y="405.45" font-size="30.30" textLength="7.18" lengthAdjust="spacingAndGlyphs" fill="#111" font-weight="normal" stroke="#111" stroke-width="1.90" paint-order="stroke" stroke-linejoin="round">t</text>
<text x="167.29" y="405.45" font-size="30.30" textLength="15.18" lengthAdjust="spacingAndGlyphs" fill="#111" font-weight="normal" stroke="#111" stroke-width="1.90" paint-order="stroke" stroke-linejoin="round">F</text>
<text x="183.82" y="405.45" font-size="30.30" textLength="17.55" lengthAdjust="spacingAndGlyphs" fill="#111" font-weight="normal" stroke="#111" stroke-width="1.90" paint-order="stroke" stroke-linejoin="round">o</text>
<text x="205.04" y="405.45" font-size="30.30" textLength="8.27" lengthAdjust="spacingAndGlyphs" fill="#111" font-weight="normal" stroke="#111" stroke-width="1.90" paint-order="stroke" stroke-linejoin="round">r</text>
<text x="216.40" y="405.45" font-size="30.30" textLength="22.38" lengthAdjust="spacingAndGlyphs" fill="#111" font-weight="normal" stroke="#111" stroke-width="1.90" paint-order="stroke" stroke-linejoin="round">w</text>
<text x="242.07" y="405.45" font-size="30.30" textLength="16.78" lengthAdjust="spacingAndGlyphs" fill="#111" font-weight="normal" stroke="#111" stroke-width="1.90" paint-order="stroke" stroke-linejoin="round">a</text>
<text x="263.44" y="405.45" font-size="30.30" textLength="8.27" lengthAdjust="spacingAndGlyphs" fill="#111" font-weight="normal" stroke="#111" stroke-width="1.90" paint-order="stroke" stroke-linejoin="round">r</text>
<text x="273.80" y="405.45" font-size="30.30" textLength="20.22" lengthAdjust="spacingAndGlyphs" fill="#111" font-weight="normal" stroke="#111" stroke-width="1.90" paint-order="stroke" stroke-linejoin="round">d</text>
<text x="131.52" y="458.75" font-size="30.30" textLength="16.57" lengthAdjust="spacingAndGlyphs" fill="#111" font-weight="normal" stroke="#111" stroke-width="1.90" paint-order="stroke" stroke-linejoin="round">S</text>
<text x="150.16" y="458.75" font-size="30.30" textLength="7.07" lengthAdjust="spacingAndGlyphs" fill="#111" font-weight="normal" stroke="#111" stroke-width="1.90" paint-order="stroke" stroke-linejoin="round">t</text>
<text x="159.52" y="458.75" font-size="30.30" textLength="18.96" lengthAdjust="spacingAndGlyphs" fill="#111" font-weight="normal" stroke="#111" stroke-width="1.90" paint-order="stroke" stroke-linejoin="round">o</text>
<text x="179.08" y="458.75" font-size="30.30" textLength="20.22" lengthAdjust="spacingAndGlyphs" fill="#111" font-weight="normal" stroke="#111" stroke-width="1.90" paint-order="stroke" stroke-linejoin="round">p</text>
<text x="202.95" y="458.75" font-size="30.30" textLength="10.10" lengthAdjust="spacingAndGlyphs" fill="#111" font-weight="normal" stroke="#111" stroke-width="1.90" paint-order="stroke" stroke-linejoin="round">/</text>
<text x="215.48" y="458.75" font-size="30.30" textLength="16.57" lengthAdjust="spacingAndGlyphs" fill="#111" font-weight="normal" stroke="#111" stroke-width="1.90" paint-order="stroke" stroke-linejoin="round">E</text>
<text x="235.13" y="458.75" font-size="30.30" textLength="5.52" lengthAdjust="spacingAndGlyphs" fill="#111" font-weight="normal" stroke="#111" stroke-width="1.90" paint-order="stroke" stroke-linejoin="round">j</text>
<text x="242.49" y="458.75" font-size="30.30" textLength="19.08" lengthAdjust="spacingAndGlyphs" fill="#111" font-weight="normal" stroke="#111" stroke-width="1.90" paint-order="stroke" stroke-linejoin="round">e</text>
<text x="263.51" y="458.75" font-size="30.30" textLength="16.93" lengthAdjust="spacingAndGlyphs" fill="#111" font-weight="normal" stroke="#111" stroke-width="1.90" paint-order="stroke" stroke-linejoin="round">c</text>
<text x="285.06" y="458.75" font-size="30.30" textLength="7.18" lengthAdjust="spacingAndGlyphs" fill="#111" font-weight="normal" stroke="#111" stroke-width="1.90" paint-order="stroke" stroke-linejoin="round">t</text>
<text x="201.60" y="507.35" font-size="30.30" textLength="16.57" lengthAdjust="spacingAndGlyphs" fill="#111" font-weight="normal" stroke="#111" stroke-width="1.90" paint-order="stroke" stroke-linejoin="round">P</text>
<text x="220.16" y="507.35" font-size="30.30" textLength="16.89" lengthAdjust="spacingAndGlyphs" fill="#111" font-weight="normal" stroke="#111" stroke-width="1.90" paint-order="stroke" stroke-linejoin="round">a</text>
<text x="241.10" y="507.35" font-size="30.30" textLength="15.84" lengthAdjust="spacingAndGlyphs" fill="#111" font-weight="normal" stroke="#111" stroke-width="1.90" paint-order="stroke" stroke-linejoin="round">u</text>
<text x="259.71" y="507.35" font-size="30.30" textLength="13.30" lengthAdjust="spacingAndGlyphs" fill="#111" font-weight="normal" stroke="#111" stroke-width="1.90" paint-order="stroke" stroke-linejoin="round">s</text>
<text x="275.54" y="507.35" font-size="30.30" textLength="18.49" lengthAdjust="spacingAndGlyphs" fill="#111" font-weight="normal" stroke="#111" stroke-width="1.90" paint-order="stroke" stroke-linejoin="round">e</text>
<text x="531.32" y="757.65" font-size="30.30" textLength="19.36" lengthAdjust="spacingAndGlyphs" fill="#111" font-weight="normal" stroke="#111" stroke-width="1.90" paint-order="stroke" stroke-linejoin="round">V</text>
<text x="552.52" y="757.65" font-size="30.30" textLength="18.96" lengthAdjust="spacingAndGlyphs" fill="#111" font-weight="normal" stroke="#111" stroke-width="1.90" paint-order="stroke" stroke-linejoin="round">o</text>
<text x="574.23" y="757.65" font-size="30.30" textLength="5.52" lengthAdjust="spacingAndGlyphs" fill="#111" font-weight="normal" stroke="#111" stroke-width="1.90" paint-order="stroke" stroke-linejoin="round">l</text>
<text x="582.52" y="757.65" font-size="30.30" textLength="16.50" lengthAdjust="spacingAndGlyphs" fill="#111" font-weight="normal" stroke="#111" stroke-width="1.90" paint-order="stroke" stroke-linejoin="round">u</text>
<text x="601.10" y="757.65" font-size="30.30" textLength="30.29" lengthAdjust="spacingAndGlyphs" fill="#111" font-weight="normal" stroke="#111" stroke-width="1.90" paint-order="stroke" stroke-linejoin="round">m</text>
<text x="632.58" y="757.65" font-size="30.30" textLength="17.90" lengthAdjust="spacingAndGlyphs" fill="#111" font-weight="normal" stroke="#111" stroke-width="1.90" paint-order="stroke" stroke-linejoin="round">e</text>
<text x="662.84" y="757.65" font-size="30.30" textLength="15.67" lengthAdjust="spacingAndGlyphs" fill="#111" font-weight="normal" stroke="#111" stroke-width="1.90" paint-order="stroke" stroke-linejoin="round">k</text>
<text x="681.98" y="757.65" font-size="30.30" textLength="16.50" lengthAdjust="spacingAndGlyphs" fill="#111" font-weight="normal" stroke="#111" stroke-width="1.90" paint-order="stroke" stroke-linejoin="round">n</text>
<text x="700.52" y="757.65" font-size="30.30" textLength="18.96" lengthAdjust="spacingAndGlyphs" fill="#111" font-weight="normal" stroke="#111" stroke-width="1.90" paint-order="stroke" stroke-linejoin="round">o</text>
<text x="721.21" y="757.65" font-size="30.30" textLength="19.29" lengthAdjust="spacingAndGlyphs" fill="#111" font-weight="normal" stroke="#111" stroke-width="1.90" paint-order="stroke" stroke-linejoin="round">b</text>
<text x="529.74" y="801.05" font-size="30.30" textLength="27.52" lengthAdjust="spacingAndGlyphs" fill="#111" font-weight="normal" stroke="#111" stroke-width="1.90" paint-order="stroke" stroke-linejoin="round">M</text>
<text x="559.25" y="801.05" font-size="30.30" textLength="5.52" lengthAdjust="spacingAndGlyphs" fill="#111" font-weight="normal" stroke="#111" stroke-width="1.90" paint-order="stroke" stroke-linejoin="round">i</text>
<text x="567.05" y="801.05" font-size="30.30" textLength="16.47" lengthAdjust="spacingAndGlyphs" fill="#111" font-weight="normal" stroke="#111" stroke-width="1.90" paint-order="stroke" stroke-linejoin="round">c</text>
<text x="586.64" y="801.05" font-size="30.30" textLength="8.27" lengthAdjust="spacingAndGlyphs" fill="#111" font-weight="normal" stroke="#111" stroke-width="1.90" paint-order="stroke" stroke-linejoin="round">r</text>
<text x="596.26" y="801.05" font-size="30.30" textLength="19.67" lengthAdjust="spacingAndGlyphs" fill="#111" font-weight="normal" stroke="#111" stroke-width="1.90" paint-order="stroke" stroke-linejoin="round">o</text>
<text x="616.44" y="801.05" font-size="30.30" textLength="19.91" lengthAdjust="spacingAndGlyphs" fill="#111" font-weight="normal" stroke="#111" stroke-width="1.90" paint-order="stroke" stroke-linejoin="round">p</text>
<text x="637.88" y="801.05" font-size="30.30" textLength="16.61" lengthAdjust="spacingAndGlyphs" fill="#111" font-weight="normal" stroke="#111" stroke-width="1.90" paint-order="stroke" stroke-linejoin="round">h</text>
<text x="656.52" y="801.05" font-size="30.30" textLength="18.96" lengthAdjust="spacingAndGlyphs" fill="#111" font-weight="normal" stroke="#111" stroke-width="1.90" paint-order="stroke" stroke-linejoin="round">o</text>
<text x="677.48" y="801.05" font-size="30.30" textLength="16.50" lengthAdjust="spacingAndGlyphs" fill="#111" font-weight="normal" stroke="#111" stroke-width="1.90" paint-order="stroke" stroke-linejoin="round">n</text>
<text x="695.54" y="801.05" font-size="30.30" textLength="18.49" lengthAdjust="spacingAndGlyphs" fill="#111" font-weight="normal" stroke="#111" stroke-width="1.90" paint-order="stroke" stroke-linejoin="round">e</text>
<text x="725.73" y="801.05" font-size="30.30" textLength="5.52" lengthAdjust="spacingAndGlyphs" fill="#111" font-weight="normal" stroke="#111" stroke-width="1.90" paint-order="stroke" stroke-linejoin="round">j</text>
<text x="733.05" y="801.05" font-size="30.30" textLength="17.00" lengthAdjust="spacingAndGlyphs" fill="#111" font-weight="normal" stroke="#111" stroke-width="1.90" paint-order="stroke" stroke-linejoin="round">a</text>
<text x="753.44" y="801.05" font-size="30.30" textLength="17.74" lengthAdjust="spacingAndGlyphs" fill="#111" font-weight="normal" stroke="#111" stroke-width="1.90" paint-order="stroke" stroke-linejoin="round">c</text>
<text x="775.27" y="801.05" font-size="30.30" textLength="13.94" lengthAdjust="spacingAndGlyphs" fill="#111" font-weight="normal" stroke="#111" stroke-width="1.90" paint-order="stroke" stroke-linejoin="round">k</text>
<text x="532.34" y="843.55" font-size="30.30" textLength="17.94" lengthAdjust="spacingAndGlyphs" fill="#111" font-weight="normal" stroke="#111" stroke-width="1.90" paint-order="stroke" stroke-linejoin="round">R</text>
<text x="549.98" y="843.55" font-size="30.30" textLength="16.57" lengthAdjust="spacingAndGlyphs" fill="#111" font-weight="normal" stroke="#111" stroke-width="1.90" paint-order="stroke" stroke-linejoin="round">E</text>
<text x="568.18" y="843.55" font-size="30.30" textLength="28.14" lengthAdjust="spacingAndGlyphs" fill="#111" font-weight="normal" stroke="#111" stroke-width="1.90" paint-order="stroke" stroke-linejoin="round">M</text>
<text x="606.24" y="843.55" font-size="30.30" textLength="12.73" lengthAdjust="spacingAndGlyphs" fill="#111" font-weight="normal" stroke="#111" stroke-width="1.90" paint-order="stroke" stroke-linejoin="round">s</text>
<text x="620.97" y="843.55" font-size="30.30" textLength="19.55" lengthAdjust="spacingAndGlyphs" fill="#111" font-weight="normal" stroke="#111" stroke-width="1.90" paint-order="stroke" stroke-linejoin="round">o</text>
<text x="643.06" y="843.55" font-size="30.30" textLength="16.35" lengthAdjust="spacingAndGlyphs" fill="#111" font-weight="normal" stroke="#111" stroke-width="1.90" paint-order="stroke" stroke-linejoin="round">c</text>
<text x="663.92" y="843.55" font-size="30.30" textLength="15.09" lengthAdjust="spacingAndGlyphs" fill="#111" font-weight="normal" stroke="#111" stroke-width="1.90" paint-order="stroke" stroke-linejoin="round">k</text>
<text x="681.95" y="843.55" font-size="30.30" textLength="19.67" lengthAdjust="spacingAndGlyphs" fill="#111" font-weight="normal" stroke="#111" stroke-width="1.90" paint-order="stroke" stroke-linejoin="round">e</text>
<text x="703.56" y="843.55" font-size="30.30" textLength="7.18" lengthAdjust="spacingAndGlyphs" fill="#111" font-weight="normal" stroke="#111" stroke-width="1.90" paint-order="stroke" stroke-linejoin="round">t</text>
<text x="530.03" y="884.95" font-size="30.30" textLength="17.94" lengthAdjust="spacingAndGlyphs" fill="#111" font-weight="normal" stroke="#111" stroke-width="1.90" paint-order="stroke" stroke-linejoin="round">U</text>
<text x="548.72" y="884.95" font-size="30.30" textLength="16.57" lengthAdjust="spacingAndGlyphs" fill="#111" font-weight="normal" stroke="#111" stroke-width="1.90" paint-order="stroke" stroke-linejoin="round">S</text>
<text x="567.35" y="884.95" font-size="30.30" textLength="16.57" lengthAdjust="spacingAndGlyphs" fill="#111" font-weight="normal" stroke="#111" stroke-width="1.90" paint-order="stroke" stroke-linejoin="round">B</text>
<text x="597.95" y="884.95" font-size="30.30" textLength="10.10" lengthAdjust="spacingAndGlyphs" fill="#111" font-weight="normal" stroke="#111" stroke-width="1.90" paint-order="stroke" stroke-linejoin="round">/</text>
<text x="612.45" y="884.95" font-size="30.30" textLength="6.90" lengthAdjust="spacingAndGlyphs" fill="#111" font-weight="normal" stroke="#111" stroke-width="1.90" paint-order="stroke" stroke-linejoin="round">t</text>
<text x="622.16" y="884.95" font-size="30.30" textLength="16.89" lengthAdjust="spacingAndGlyphs" fill="#111" font-weight="normal" stroke="#111" stroke-width="1.90" paint-order="stroke" stroke-linejoin="round">a</text>
<text x="642.64" y="884.95" font-size="30.30" textLength="19.91" lengthAdjust="spacingAndGlyphs" fill="#111" font-weight="normal" stroke="#111" stroke-width="1.90" paint-order="stroke" stroke-linejoin="round">p</text>
<text x="664.54" y="884.95" font-size="30.30" textLength="18.49" lengthAdjust="spacingAndGlyphs" fill="#111" font-weight="normal" stroke="#111" stroke-width="1.90" paint-order="stroke" stroke-linejoin="round">e</text>
<text x="694.67" y="884.95" font-size="30.30" textLength="28.65" lengthAdjust="spacingAndGlyphs" fill="#111" font-weight="normal" stroke="#111" stroke-width="1.90" paint-order="stroke" stroke-linejoin="round">m</text>
<text x="725.47" y="884.95" font-size="30.30" textLength="19.55" lengthAdjust="spacingAndGlyphs" fill="#111" font-weight="normal" stroke="#111" stroke-width="1.90" paint-order="stroke" stroke-linejoin="round">o</text>
<text x="747.54" y="884.95" font-size="30.30" textLength="18.67" lengthAdjust="spacingAndGlyphs" fill="#111" font-weight="normal" stroke="#111" stroke-width="1.90" paint-order="stroke" stroke-linejoin="round">d</text>
<text x="767.54" y="884.95" font-size="30.30" textLength="18.49" lengthAdjust="spacingAndGlyphs" fill="#111" font-weight="normal" stroke="#111" stroke-width="1.90" paint-order="stroke" stroke-linejoin="round">e</text>
<text x="798.24" y="884.95" font-size="30.30" textLength="12.42" lengthAdjust="spacingAndGlyphs" fill="#111" font-weight="normal" stroke="#111" stroke-width="1.90" paint-order="stroke" stroke-linejoin="round">s</text>
<text x="812.00" y="884.95" font-size="30.30" textLength="24.37" lengthAdjust="spacingAndGlyphs" fill="#111" font-weight="normal" stroke="#111" stroke-width="1.90" paint-order="stroke" stroke-linejoin="round">w</text>
<text x="838.05" y="884.95" font-size="30.30" textLength="6.32" lengthAdjust="spacingAndGlyphs" fill="#111" font-weight="normal" stroke="#111" stroke-width="1.90" paint-order="stroke" stroke-linejoin="round">i</text>
<text x="846.14" y="884.95" font-size="30.30" textLength="7.51" lengthAdjust="spacingAndGlyphs" fill="#111" font-weight="normal" stroke="#111" stroke-width="1.90" paint-order="stroke" stroke-linejoin="round">t</text>
<text x="856.66" y="884.95" font-size="30.30" textLength="17.51" lengthAdjust="spacingAndGlyphs" fill="#111" font-weight="normal" stroke="#111" stroke-width="1.90" paint-order="stroke" stroke-linejoin="round">c</text>
<text x="877.33" y="884.95" font-size="30.30" textLength="17.80" lengthAdjust="spacingAndGlyphs" fill="#111" font-weight="normal" stroke="#111" stroke-width="1.90" paint-order="stroke" stroke-linejoin="round">h</text>
<text x="530.90" y="926.55" font-size="30.30" textLength="15.37" lengthAdjust="spacingAndGlyphs" fill="#111" font-weight="normal" stroke="#111" stroke-width="1.90" paint-order="stroke" stroke-linejoin="round">3</text>
<text x="547.96" y="926.55" font-size="30.30" textLength="7.59" lengthAdjust="spacingAndGlyphs" fill="#111" font-weight="normal" stroke="#111" stroke-width="1.90" paint-order="stroke" stroke-linejoin="round">.</text>
<text x="557.30" y="926.55" font-size="30.30" textLength="15.95" lengthAdjust="spacingAndGlyphs" fill="#111" font-weight="normal" stroke="#111" stroke-width="1.90" paint-order="stroke" stroke-linejoin="round">5</text>
<text x="585.30" y="926.55" font-size="30.30" textLength="17.27" lengthAdjust="spacingAndGlyphs" fill="#111" font-weight="normal" stroke="#111" stroke-width="1.90" paint-order="stroke" stroke-linejoin="round">h</text>
<text x="604.99" y="926.55" font-size="30.30" textLength="19.08" lengthAdjust="spacingAndGlyphs" fill="#111" font-weight="normal" stroke="#111" stroke-width="1.90" paint-order="stroke" stroke-linejoin="round">e</text>
<text x="626.12" y="926.55" font-size="30.30" textLength="17.43" lengthAdjust="spacingAndGlyphs" fill="#111" font-weight="normal" stroke="#111" stroke-width="1.90" paint-order="stroke" stroke-linejoin="round">a</text>
<text x="647.45" y="926.55" font-size="30.30" textLength="19.91" lengthAdjust="spacingAndGlyphs" fill="#111" font-weight="normal" stroke="#111" stroke-width="1.90" paint-order="stroke" stroke-linejoin="round">d</text>
<text x="668.79" y="926.55" font-size="30.30" textLength="18.67" lengthAdjust="spacingAndGlyphs" fill="#111" font-weight="normal" stroke="#111" stroke-width="1.90" paint-order="stroke" stroke-linejoin="round">p</text>
<text x="689.80" y="926.55" font-size="30.30" textLength="17.27" lengthAdjust="spacingAndGlyphs" fill="#111" font-weight="normal" stroke="#111" stroke-width="1.90" paint-order="stroke" stroke-linejoin="round">h</text>
<text x="708.97" y="926.55" font-size="30.30" textLength="19.55" lengthAdjust="spacingAndGlyphs" fill="#111" font-weight="normal" stroke="#111" stroke-width="1.90" paint-order="stroke" stroke-linejoin="round">o</text>
<text x="731.48" y="926.55" font-size="30.30" textLength="16.50" lengthAdjust="spacingAndGlyphs" fill="#111" font-weight="normal" stroke="#111" stroke-width="1.90" paint-order="stroke" stroke-linejoin="round">n</text>
<text x="749.99" y="926.55" font-size="30.30" textLength="19.08" lengthAdjust="spacingAndGlyphs" fill="#111" font-weight="normal" stroke="#111" stroke-width="1.90" paint-order="stroke" stroke-linejoin="round">e</text>
<text x="782.13" y="926.55" font-size="30.30" textLength="5.52" lengthAdjust="spacingAndGlyphs" fill="#111" font-weight="normal" stroke="#111" stroke-width="1.90" paint-order="stroke" stroke-linejoin="round">j</text>
<text x="789.62" y="926.55" font-size="30.30" textLength="17.43" lengthAdjust="spacingAndGlyphs" fill="#111" font-weight="normal" stroke="#111" stroke-width="1.90" paint-order="stroke" stroke-linejoin="round">a</text>
<text x="811.46" y="926.55" font-size="30.30" textLength="17.51" lengthAdjust="spacingAndGlyphs" fill="#111" font-weight="normal" stroke="#111" stroke-width="1.90" paint-order="stroke" stroke-linejoin="round">c</text>
<text x="832.99" y="926.55" font-size="30.30" textLength="14.51" lengthAdjust="spacingAndGlyphs" fill="#111" font-weight="normal" stroke="#111" stroke-width="1.90" paint-order="stroke" stroke-linejoin="round">k</text>
<text x="530.79" y="962.85" font-size="30.30" textLength="19.02" lengthAdjust="spacingAndGlyphs" fill="#111" font-weight="normal" stroke="#111" stroke-width="1.90" paint-order="stroke" stroke-linejoin="round">D</text>
<text x="551.72" y="962.85" font-size="30.30" textLength="24.63" lengthAdjust="spacingAndGlyphs" fill="#111" font-weight="normal" stroke="#111" stroke-width="1.90" paint-order="stroke" stroke-linejoin="round">C</text>
<text x="588.24" y="962.85" font-size="30.30" textLength="12.73" lengthAdjust="spacingAndGlyphs" fill="#111" font-weight="normal" stroke="#111" stroke-width="1.90" paint-order="stroke" stroke-linejoin="round">s</text>
<text x="601.97" y="962.85" font-size="30.30" textLength="19.55" lengthAdjust="spacingAndGlyphs" fill="#111" font-weight="normal" stroke="#111" stroke-width="1.90" paint-order="stroke" stroke-linejoin="round">o</text>
<text x="623.46" y="962.85" font-size="30.30" textLength="17.51" lengthAdjust="spacingAndGlyphs" fill="#111" font-weight="normal" stroke="#111" stroke-width="1.90" paint-order="stroke" stroke-linejoin="round">c</text>
<text x="644.42" y="962.85" font-size="30.30" textLength="15.09" lengthAdjust="spacingAndGlyphs" fill="#111" font-weight="normal" stroke="#111" stroke-width="1.90" paint-order="stroke" stroke-linejoin="round">k</text>
<text x="662.49" y="962.85" font-size="30.30" textLength="19.08" lengthAdjust="spacingAndGlyphs" fill="#111" font-weight="normal" stroke="#111" stroke-width="1.90" paint-order="stroke" stroke-linejoin="round">e</text>
<text x="684.06" y="962.85" font-size="30.30" textLength="7.18" lengthAdjust="spacingAndGlyphs" fill="#111" font-weight="normal" stroke="#111" stroke-width="1.90" paint-order="stroke" stroke-linejoin="round">t</text>
</svg>
</body></html>
